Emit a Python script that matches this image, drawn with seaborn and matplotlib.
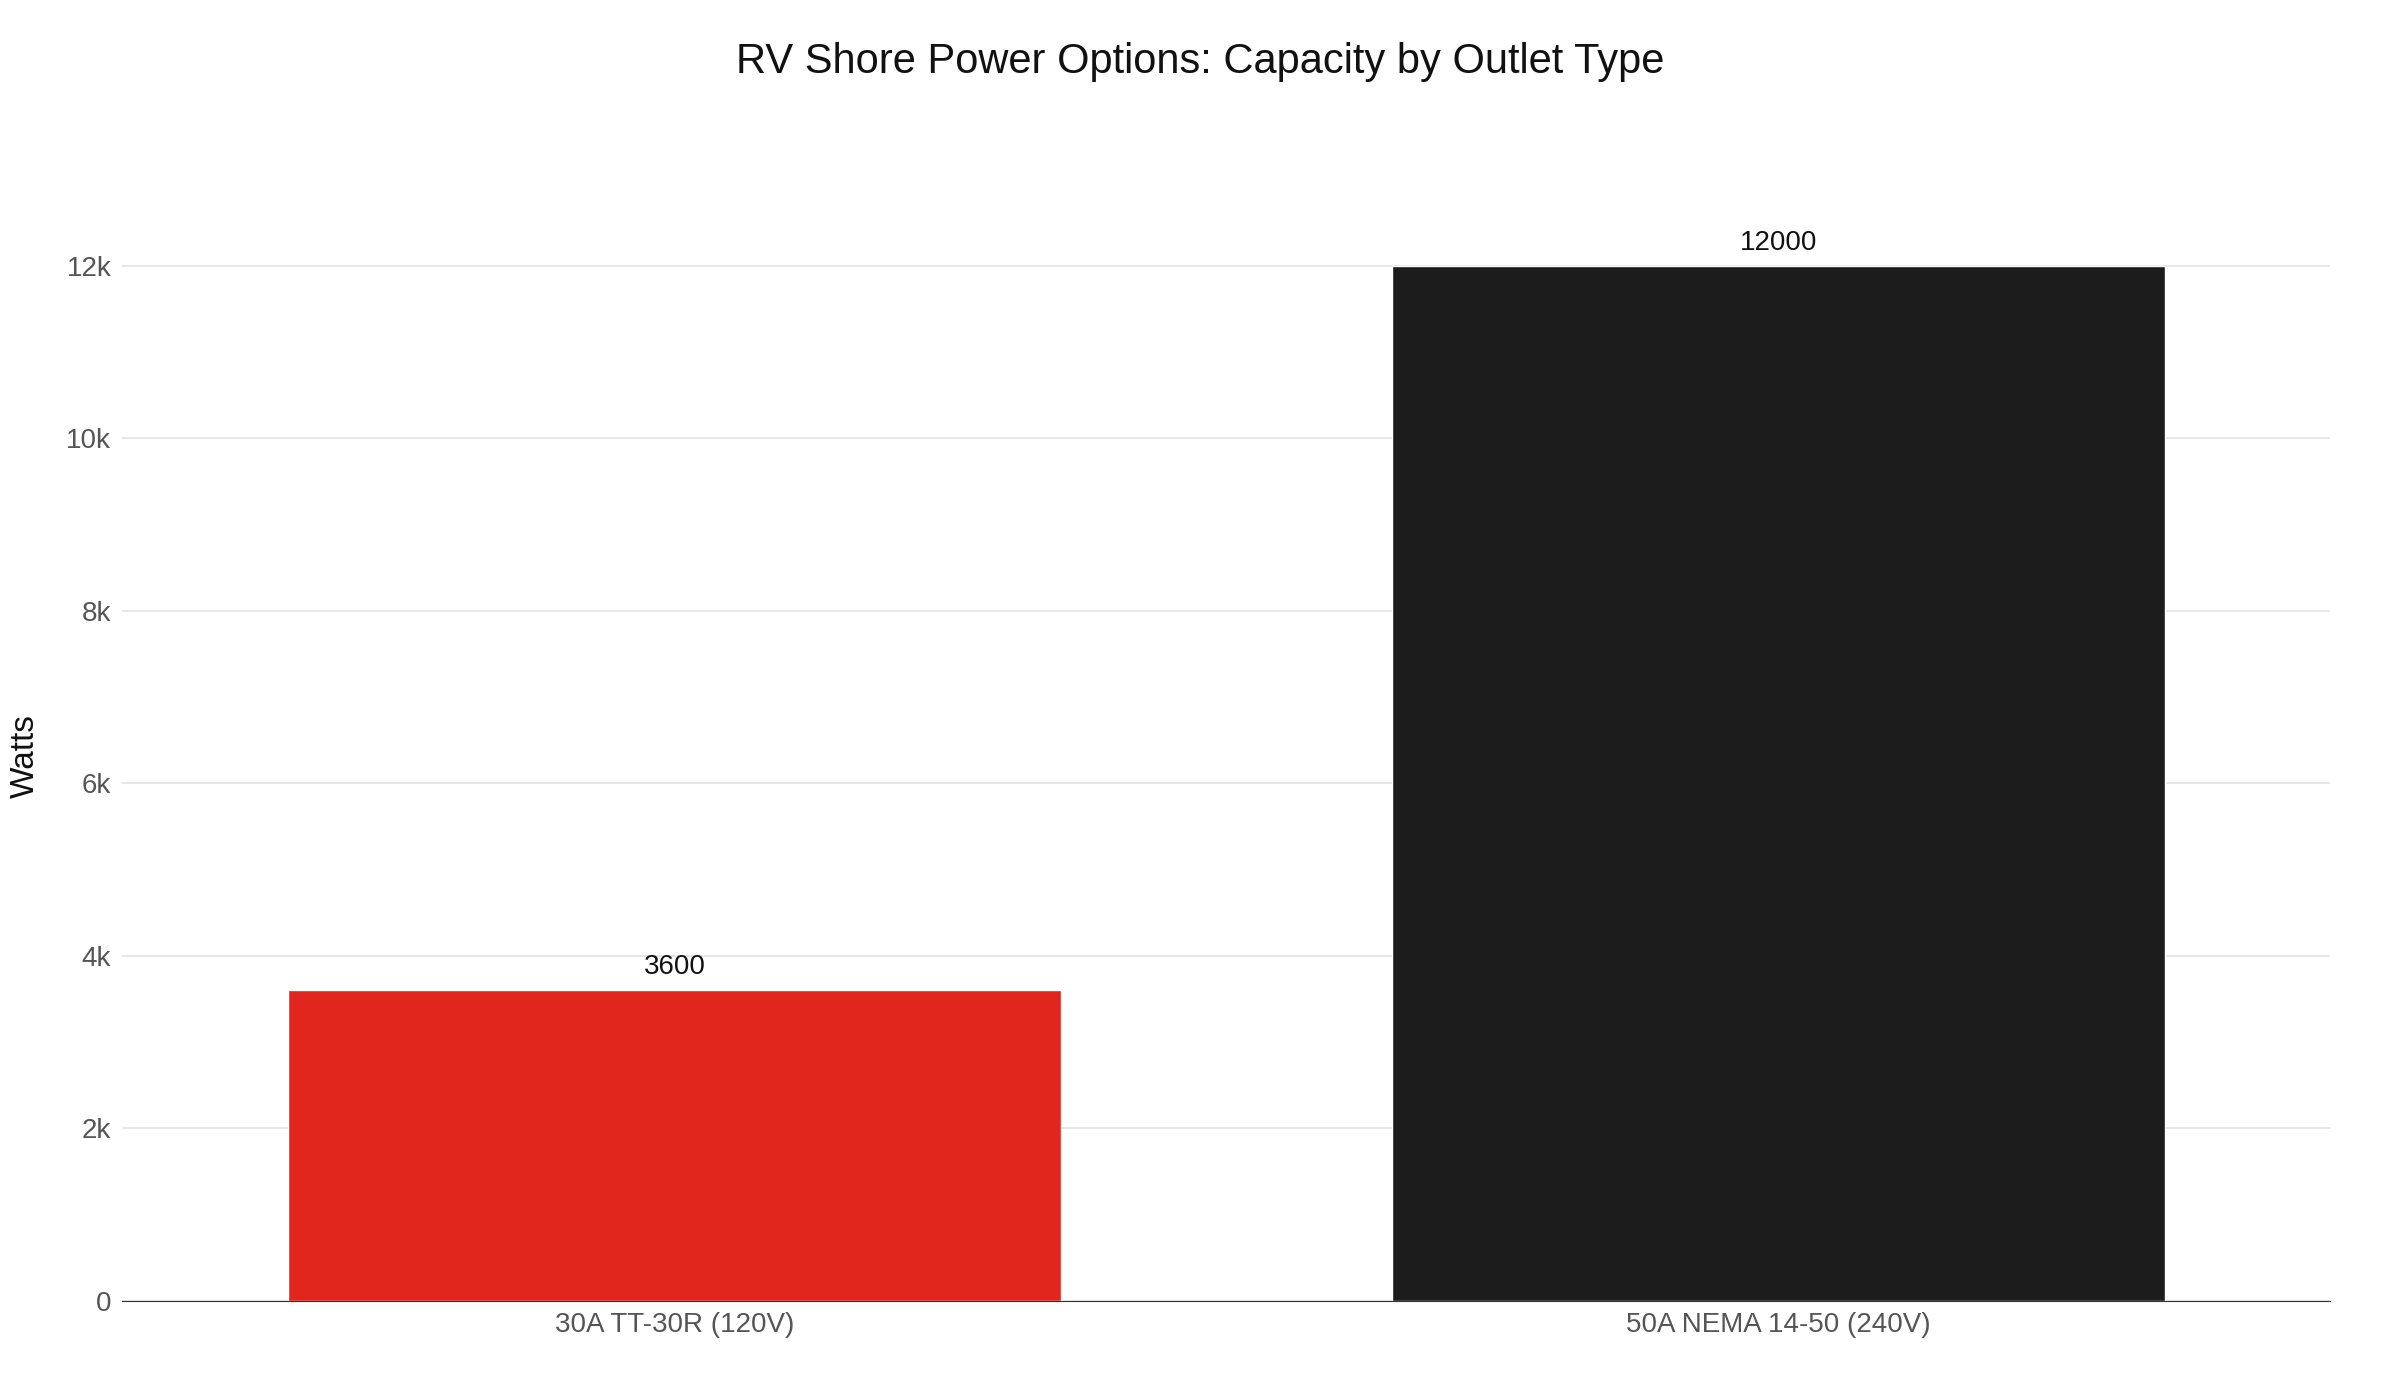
import matplotlib
matplotlib.use("Agg")
import matplotlib.pyplot as plt
import seaborn as sns
import pandas as pd
from matplotlib.ticker import FuncFormatter

outlets = ["30A TT-30R (120V)", "50A NEMA 14-50 (240V)"]
watts = [3600, 12000]
colors = ["#E0261D", "#1C1C1C"]

sns.set_style("white")
plt.rcParams["font.family"] = ["Liberation Sans", "DejaVu Sans"]

df = pd.DataFrame({"outlet": outlets, "watts": watts})

fig = plt.figure(figsize=(24, 14), dpi=100)
ax = fig.add_axes([0.051, 0.071, 0.92, 0.778])
sns.barplot(data=df, x="outlet", y="watts", hue="outlet", palette=colors,
            width=0.7, legend=False, ax=ax, saturation=1)

for i, v in enumerate(watts):
    ax.text(i, v + 120, str(v), ha="center", va="bottom", fontsize=20, color="#111111")

ax.set_ylim(0, 12632)
ax.set_xlim(-0.5, 1.5)
ax.set_yticks(range(0, 12001, 2000))
ax.yaxis.set_major_formatter(FuncFormatter(lambda v, p: "0" if v == 0 else f"{int(v/1000)}k"))
ax.grid(axis="y", color="#E3E3E3", linewidth=1.2)
ax.set_axisbelow(True)
for s in ["top", "right", "left"]:
    ax.spines[s].set_visible(False)
ax.spines["bottom"].set_color("#333333")
ax.tick_params(axis="both", labelsize=20, labelcolor="#555555", length=0, pad=8)
ax.tick_params(axis="y", length=10, color="#555555", direction="in")
ax.set_xlabel("")
ax.set_ylabel("Watts", fontsize=24, color="#111111", labelpad=18)
fig.suptitle("RV Shore Power Options: Capacity by Outlet Type", fontsize=30,
             color="#111111", y=0.97)

fig.savefig("out.png", dpi=100)
